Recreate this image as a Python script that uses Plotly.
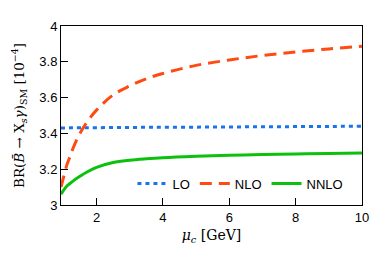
import plotly.graph_objects as go

mu_c = [0.93, 1.0, 1.1, 1.2, 1.3, 1.5, 1.7, 2.0, 2.5, 3.0, 3.5, 4.0, 5.0, 6.0, 7.0, 8.0, 9.0, 10.0]
br_lo = [3.430, 3.430, 3.430, 3.431, 3.431, 3.431, 3.432, 3.432, 3.433, 3.433, 3.434, 3.434, 3.435, 3.436, 3.437, 3.438, 3.439, 3.440]
br_nlo = [3.10, 3.15, 3.22, 3.27, 3.32, 3.40, 3.46, 3.53, 3.615, 3.665, 3.705, 3.735, 3.78, 3.81, 3.835, 3.855, 3.872, 3.887]
br_nnlo = [3.06, 3.08, 3.105, 3.12, 3.135, 3.16, 3.183, 3.21, 3.237, 3.25, 3.258, 3.264, 3.272, 3.278, 3.282, 3.285, 3.288, 3.29]

x_ticks = [2, 4, 6, 8, 10]
y_ticks = [3, 3.2, 3.4, 3.6, 3.8, 4]
y_tick_labels = ["3", "3.2", "3.4", "3.6", "3.8", "4"]

fig = go.Figure()
fig.add_trace(go.Scatter(x=mu_c, y=br_lo, mode="lines", name="LO",
                         line=dict(color="#1a73e8", width=3, dash="4px,4px", shape="spline")))
fig.add_trace(go.Scatter(x=mu_c, y=br_nlo, mode="lines", name="NLO",
                         line=dict(color="#ff4a12", width=3, dash="12px,7px", shape="spline")))
fig.add_trace(go.Scatter(x=mu_c, y=br_nnlo, mode="lines", name="NNLO",
                         line=dict(color="#0cc00c", width=3, shape="spline")))

# page body has an 8px default margin; figure sized to end at window edge
fig.update_layout(
    width=373, height=247,
    margin=dict(l=50, r=19, t=11, b=50),
    plot_bgcolor="white", paper_bgcolor="white",
    font=dict(family="Liberation Sans, Arial, sans-serif", size=13, color="black"),
    legend=dict(orientation="h", x=0.955, y=0.12, xanchor="right", yanchor="middle",
                bgcolor="rgba(0,0,0,0)", font=dict(size=13), itemwidth=30,
                tracegroupgap=0),
    showlegend=True,
)
fig.update_xaxes(range=[0.93, 10], tickvals=x_ticks, ticks="inside", ticklen=7,
                 tickcolor="black", linecolor="black", linewidth=1, mirror=True,
                 showgrid=False, zeroline=False,
                 title=dict(text="<i>μ</i><sub><i>c</i></sub> [GeV]",
                            font=dict(family="DejaVu Serif, Liberation Serif, serif", size=14),
                            standoff=6))
fig.update_yaxes(range=[3, 4], tickvals=y_ticks, ticktext=y_tick_labels, ticks="inside", ticklen=7,
                 tickcolor="black", linecolor="black", linewidth=1, mirror=True,
                 showgrid=False, zeroline=False,
                 title=dict(text="BR(<i>B̄</i> → X<sub><i>s</i></sub><i>γ</i>)<sub>SM</sub> [10<sup>−4</sup>]",
                            font=dict(family="DejaVu Serif, Liberation Serif, serif", size=13.5),
                            standoff=11))

fig.write_html("out.html")
